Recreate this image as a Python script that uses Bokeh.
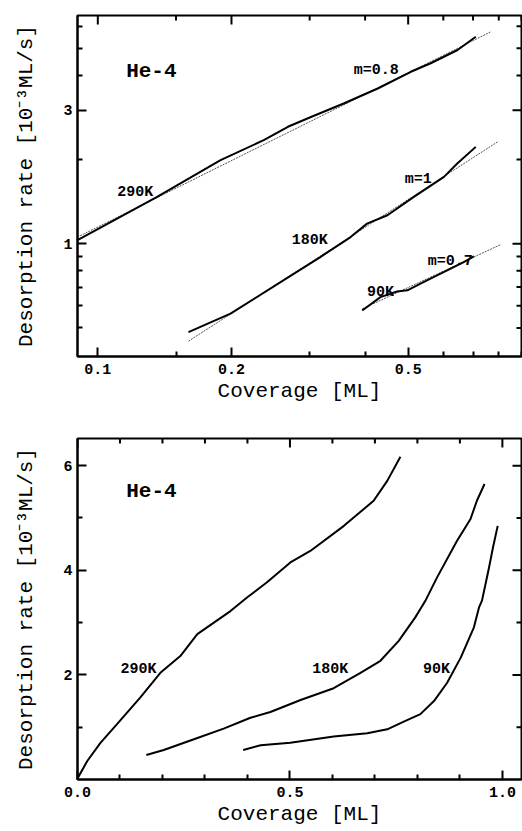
import math
from bokeh.plotting import figure
from bokeh.models import Range1d, FixedTicker, PrintfTickFormatter, Label
from bokeh.layouts import column
from bokeh.embed import file_html
from bokeh.resources import INLINE

# ---------------- data ----------------
# Top panel: log-log plot
top_290_x = [0.090, 0.136, 0.189, 0.237, 0.268, 0.302, 0.359, 0.427, 0.507, 0.562, 0.646, 0.710]
top_290_y = [1.03, 1.47, 1.99, 2.35, 2.62, 2.84, 3.18, 3.59, 4.12, 4.42, 4.93, 5.50]
fit_290_x = [0.090, 0.768]
fit_290_y = [1.056, 5.73]

top_180_x = [0.160, 0.199, 0.258, 0.317, 0.371, 0.404, 0.449, 0.515, 0.602, 0.645, 0.710]
top_180_y = [0.483, 0.562, 0.729, 0.896, 1.056, 1.180, 1.264, 1.470, 1.734, 1.935, 2.220]
fit_180_x = [0.160, 0.795]
fit_180_y = [0.448, 2.313]

top_90_x = [0.394, 0.433, 0.472, 0.498, 0.533, 0.612, 0.667, 0.703]
top_90_y = [0.577, 0.644, 0.675, 0.681, 0.720, 0.803, 0.860, 0.901]
fit_90_x = [0.394, 0.807]
fit_90_y = [0.585, 0.992]

# Bottom panel: linear plot
bot_290_x = [0.0, 0.023, 0.054, 0.093, 0.148, 0.195, 0.242, 0.282, 0.321, 0.360,
             0.399, 0.446, 0.501, 0.548, 0.627, 0.697, 0.729, 0.760]
bot_290_y = [0.02, 0.354, 0.70, 1.06, 1.57, 2.04, 2.36, 2.78, 3.00, 3.22,
             3.48, 3.77, 4.15, 4.37, 4.85, 5.33, 5.71, 6.17]

bot_180_x = [0.162, 0.203, 0.274, 0.344, 0.407, 0.454, 0.525, 0.603, 0.666, 0.713,
             0.756, 0.795, 0.807, 0.819, 0.846, 0.893, 0.925, 0.940, 0.958]
bot_180_y = [0.469, 0.565, 0.769, 0.972, 1.18, 1.29, 1.52, 1.745, 2.04, 2.27,
             2.65, 3.10, 3.26, 3.42, 3.86, 4.56, 4.98, 5.33, 5.65]

bot_90_x = [0.390, 0.431, 0.501, 0.603, 0.682, 0.729, 0.768, 0.807, 0.839, 0.870,
            0.902, 0.933, 0.945, 0.952, 0.967, 0.978, 0.989]
bot_90_y = [0.565, 0.654, 0.704, 0.820, 0.884, 0.960, 1.106, 1.25, 1.50, 1.85,
            2.33, 2.91, 3.29, 3.42, 3.99, 4.44, 4.85]

# tick values / labels
top_x_major = [0.1, 0.2, 0.5]
top_x_minor = [0.15, 0.3, 0.4, 0.6, 0.7, 0.8, 0.9]
top_y_major = [1, 3]
top_y_minor = [0.5, 0.6, 0.7, 0.8, 0.9, 2, 4, 5, 6]
bot_x_major = [0.0, 0.5, 1.0]
bot_x_minor = [0.1, 0.2, 0.3, 0.4, 0.6, 0.7, 0.8, 0.9]
bot_y_major = [2, 4, 6]
bot_y_minor = [1, 3, 5]

x_title = "Coverage [ML]"
y_title = "Desorption rate [10\u207b\u00b3ML/s]"

FONT = "Liberation Mono"
MAJ = 9   # inward tick length, px
MIN = 5


def style_axis(ax):
    ax.axis_line_width = 2
    ax.axis_line_color = "black"
    ax.major_tick_in = MAJ
    ax.major_tick_out = 0
    ax.minor_tick_in = MIN
    ax.minor_tick_out = 0
    ax.major_tick_line_width = 2
    ax.minor_tick_line_width = 2
    ax.major_label_text_font = FONT
    ax.major_label_text_font_style = "bold"
    ax.major_label_text_color = "black"
    ax.major_label_text_font_size = "15px"
    ax.axis_label_text_font = FONT
    ax.axis_label_text_font_style = "normal"
    ax.axis_label_text_font_size = "21px"
    ax.axis_label_text_color = "black"


def mirror_ticks(p, xr, yr, xmaj, xmin, ymaj, ymin):
    # inward ticks on the top and right frame edges (clipped to the frame)
    for vals, size in ((xmaj, 2 * MAJ), (xmin, 2 * MIN)):
        p.scatter(vals, [yr[1]] * len(vals), marker="dash", angle=math.pi / 2,
                  size=size, line_color="black", line_width=2)
    for vals, size in ((ymaj, 2 * MAJ), (ymin, 2 * MIN)):
        p.scatter([xr[1]] * len(vals), vals, marker="dash", angle=0,
                  size=size, line_color="black", line_width=2)


def make_fig(height, log, xr, yr, xmaj, xmin, ymaj, ymin, xfmt, yfmt, top_border, bottom_border):
    kw = dict(width=522, height=height, output_backend="svg", toolbar_location=None,
              x_range=Range1d(*xr), y_range=Range1d(*yr),
              min_border_left=77, min_border_right=1,
              min_border_top=top_border, min_border_bottom=bottom_border)
    if log:
        kw.update(x_axis_type="log", y_axis_type="log")
    p = figure(**kw)
    p.xgrid.visible = False
    p.ygrid.visible = False
    p.outline_line_color = "black"
    p.outline_line_width = 2
    p.background_fill_color = "white"
    p.border_fill_color = "white"

    xa = p.xaxis[0]
    ya = p.yaxis[0]
    xa.ticker = FixedTicker(ticks=xmaj, minor_ticks=xmin)
    ya.ticker = FixedTicker(ticks=ymaj, minor_ticks=ymin)
    xa.formatter = PrintfTickFormatter(format=xfmt)
    ya.formatter = PrintfTickFormatter(format=yfmt)
    style_axis(xa)
    style_axis(ya)
    xa.major_label_standoff = 7
    ya.major_label_standoff = 5
    xa.axis_label = x_title
    ya.axis_label = y_title
    xa.axis_label_standoff = 3
    ya.axis_label_standoff = 22

    mirror_ticks(p, xr, yr, xmaj, xmin, ymaj, ymin)
    return p


def add_label(p, x, y, text, size="15px"):
    p.add_layout(Label(x=x, y=y, text=text, text_font=FONT, text_font_style="bold",
                       text_font_size=size, text_color="black",
                       text_align="center", text_baseline="middle"))


# ---------------- top panel ----------------
top_xr = (0.09, 0.9)
top_yr = (0.395, 6.55)
p1 = make_fig(410, True, top_xr, top_yr,
              top_x_major, top_x_minor, top_y_major, top_y_minor,
              "%.1f", "%d", 15, 54)

for fx, fy in [(fit_290_x, fit_290_y), (fit_180_x, fit_180_y), (fit_90_x, fit_90_y)]:
    p1.line(fx, fy, line_color="#555555", line_width=1, line_dash="2 1")
for dx, dy in [(top_290_x, top_290_y), (top_180_x, top_180_y), (top_90_x, top_90_y)]:
    p1.line(dx, dy, line_color="black", line_width=2)

add_label(p1, 0.132, 4.12, "He-4", "21px")
add_label(p1, 0.424, 4.16, "m=0.8")
add_label(p1, 0.1215, 1.524, "290K")
add_label(p1, 0.527, 1.70, "m=1")
add_label(p1, 0.300, 1.027, "180K")
add_label(p1, 0.433, 0.67, "90K")
add_label(p1, 0.622, 0.865, "m=0.7")

# ---------------- bottom panel ----------------
bot_xr = (0.0, 1.045)
bot_yr = (0.0, 6.52)
p2 = make_fig(421, False, bot_xr, bot_yr,
              bot_x_major, bot_x_minor, bot_y_major, bot_y_minor,
              "%.1f", "%d", 28, 52)

for dx, dy in [(bot_290_x, bot_290_y), (bot_180_x, bot_180_y), (bot_90_x, bot_90_y)]:
    p2.line(dx, dy, line_color="black", line_width=2)

add_label(p2, 0.174, 5.50, "He-4", "21px")
add_label(p2, 0.1435, 2.096, "290K")
add_label(p2, 0.595, 2.096, "180K")
add_label(p2, 0.845, 2.096, "90K")

layout = column(p1, p2, spacing=0)
open("out.html", "w").write(file_html(layout, INLINE))
